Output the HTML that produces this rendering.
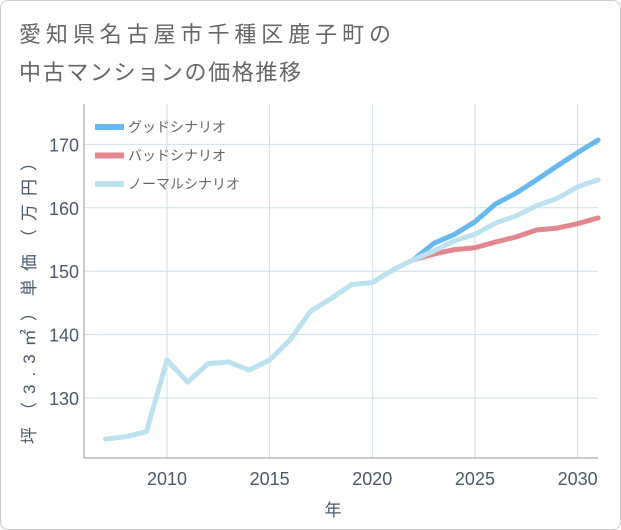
<!DOCTYPE html>
<html><head><meta charset="utf-8"><style>
body{margin:0;background:#fff;font-family:"Liberation Sans","Noto Sans CJK JP",sans-serif;}
#wrap{position:relative;width:619px;height:528px;border:1px solid #ccc;border-radius:8px;overflow:hidden;}
</style></head><body>
<div id="wrap">
<svg id="chart" width="621" height="530" font-family="Liberation Sans, Noto Sans CJK JP, sans-serif">
<text x="18" y="41" font-size="22" fill="#666" textLength="372" lengthAdjust="spacing">愛知県名古屋市千種区鹿子町の</text>
<text x="18" y="79" font-size="22" fill="#666" textLength="282" lengthAdjust="spacing">中古マンションの価格推移</text>
<g id="grid"></g><g id="series"></g><g id="axes"></g>
</svg>
</div>
<script>
const years=[2007,2008,2009,2010,2011,2012,2013,2014,2015,2016,2017,2018,2019,2020,2021,2022,2023,2024,2025,2026,2027,2028,2029,2030,2031];
const normal=[123.5,123.9,124.7,136,132.5,135.4,135.7,134.4,136,139.2,143.7,145.7,147.9,148.2,150.2,151.8,153.2,154.8,155.8,157.6,158.7,160.3,161.5,163.3,164.4];
const futureYears=[2022,2023,2024,2025,2026,2027,2028,2029,2030,2031];
const good=[151.8,154.4,155.8,157.8,160.6,162.3,164.4,166.6,168.7,170.7];
const bad=[151.8,152.7,153.4,153.7,154.6,155.4,156.5,156.8,157.5,158.4];
const xTicks=[2010,2015,2020,2025,2030];
const yTicks=[130,140,150,160,170];
const L=83,R=597,T=103,B=457;
const X=v=>166+(v-2010)*20.53;
const Y=v=>397-(v-130)*6.34;
const ns="http://www.w3.org/2000/svg";
function mk(tag,attrs,parent){const e=document.createElementNS(ns,tag);for(const k in attrs)e.setAttribute(k,attrs[k]);document.getElementById(parent).appendChild(e);return e;}
xTicks.forEach(t=>{const l=mk('line',{x1:X(t),x2:X(t),y1:T,y2:B,stroke:'#cfdfe9','stroke-width':1},'grid');

const tx=mk('text',{x:X(t),y:B+27,'text-anchor':'middle','font-size':18,fill:'#4a5a6e'},'axes');tx.textContent=t;
});
yTicks.forEach(t=>{const l=mk('line',{x1:L,x2:R,y1:Y(t),y2:Y(t),stroke:'#cfdfe9','stroke-width':1},'grid');

const tx=mk('text',{x:L-5,y:Y(t)+7,'text-anchor':'end','font-size':18,fill:'#4a5a6e'},'axes');tx.textContent=t;
});
const ax=mk('path',{d:`M${L},${T}V${B}H${R}`,fill:'none',stroke:'#999','stroke-width':1},'axes');

function line(xs,ys,color,name){const d=xs.map((x,i)=>(i?'L':'M')+X(x).toFixed(1)+','+Y(ys[i]).toFixed(1)).join('');
const p=mk('path',{d,fill:'none',stroke:color,'stroke-width':5,'stroke-linejoin':'round','stroke-linecap':'round'},'series');
}
line(futureYears,bad,'#e0878f','bad-scenario-line');
line(futureYears,good,'#68b8f0','good-scenario-line');
line(years,normal,'#bde2ef','normal-scenario-line');
const leg=[['グッドシナリオ','#68b8f0'],['バッドシナリオ','#e0878f'],['ノーマルシナリオ','#bde2ef']];
leg.forEach((e,i)=>{const y=126+i*28.5;
const r=mk('rect',{x:94,y:y-3,width:29,height:6,fill:e[1]},'axes');
const t=mk('text',{x:127,y:y+5,'font-size':14,fill:'#666'},'axes');t.textContent=e[0];});
const xt=mk('text',{x:332,y:515,'text-anchor':'middle','font-size':17,fill:'#4a5a6e'},'axes');xt.textContent='年';

const yt=mk('text',{x:0,y:0,'text-anchor':'middle','font-size':17,fill:'#4a5a6e',textLength:290,lengthAdjust:'spacing',transform:'translate(34,298) rotate(-90)'},'axes');yt.textContent='坪（3.3㎡）単価（万円）';

</script>
</body></html>
